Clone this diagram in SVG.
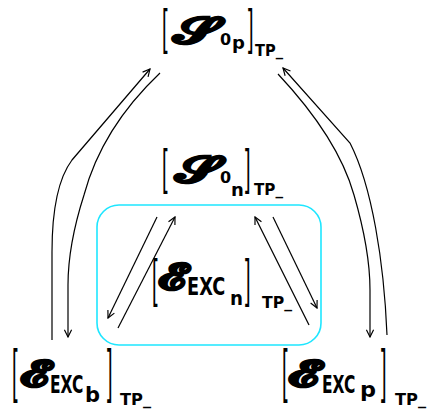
<svg xmlns="http://www.w3.org/2000/svg" width="428" height="410" viewBox="0 0 428 410">
<style>
.br{font-family:"Liberation Sans",Arial,sans-serif;font-size:20px;fill:#000}
.sc{font-family:"DejaVu Serif","DejaVu Sans","Noto Sans",serif;font-weight:bold;font-size:36px;fill:#000;stroke:#000;stroke-width:1.4}
.b{font-family:"DejaVu Sans",Verdana,sans-serif;font-weight:bold;fill:#000}
.tp{font-family:"DejaVu Sans",Verdana,sans-serif;font-weight:bold;font-size:15px;fill:#000}
.ln{fill:none;stroke:#000;stroke-width:1.2}
</style>
<defs>
<marker id="ah" viewBox="0 0 10 10" refX="9" refY="5" markerWidth="9" markerHeight="9" markerUnits="userSpaceOnUse" orient="auto">
<path d="M1,1 L9,5 L1,9" fill="none" stroke="#000" stroke-width="1.3"/>
</marker>
</defs>
<rect x="97" y="205" width="224" height="140" rx="22" ry="22" fill="none" stroke="#1ee6ff" stroke-width="1.6"/>
<g id="connectors">
<path class="ln" marker-end="url(#ah)" d="M52,340 L52,252 C52,205 60,176 72,160 L150,69"/>
<path class="ln" marker-end="url(#ah)" d="M160,73 Q102,128 84,195 Q68,245 68,285 L68,337"/>
<path class="ln" marker-end="url(#ah)" d="M387,335 C384,262 372,186 350,143 L283,68"/>
<path class="ln" marker-end="url(#ah)" d="M278,74 Q338,138 354,195 Q370,250 370,290 L370,337"/>
<path class="ln" marker-end="url(#ah)" d="M157,217 L108,318"/>
<path class="ln" marker-end="url(#ah)" d="M118,328 L175,217"/>
<path class="ln" marker-end="url(#ah)" d="M309,325 L255,217"/>
<path class="ln" marker-end="url(#ah)" d="M273,217 L317,308"/>
</g>
<g id="S0p">
<text class="br" transform="translate(162,44.4) scale(1,2.5)">[</text>
<text class="sc" x="173" y="43" textLength="45" lengthAdjust="spacingAndGlyphs">𝓢</text>
<text class="b" x="220" y="45" font-size="16">0</text>
<text class="b" x="232" y="49" font-size="18">p</text>
<text class="br" transform="translate(248,44.4) scale(1,2.5)">]</text>
<text class="tp" x="255" y="56" textLength="28" lengthAdjust="spacingAndGlyphs">TP_</text>
</g>
<g id="S0n">
<text class="br" transform="translate(162,184.4) scale(1,2.5)">[</text>
<text class="sc" x="175" y="182" textLength="44" lengthAdjust="spacingAndGlyphs">𝓢</text>
<text class="b" x="220" y="183" font-size="16">0</text>
<text class="b" x="231" y="196" font-size="18">n</text>
<text class="br" transform="translate(245,184.4) scale(1,2.5)">]</text>
<text class="tp" x="254" y="195" textLength="29" lengthAdjust="spacingAndGlyphs">TP_</text>
</g>
<g id="EXCn">
<text class="br" transform="translate(152,296) scale(1,2.61)">[</text>
<text class="sc" x="158" y="289" textLength="28" lengthAdjust="spacingAndGlyphs">𝓔</text>
<text class="b" font-size="24" transform="translate(187,295) scale(0.74,1)">EXC</text>
<text class="b" x="230" y="305" font-size="20" textLength="13" lengthAdjust="spacingAndGlyphs">n</text>
<text class="br" transform="translate(245,296) scale(1,2.61)">]</text>
<text class="tp" x="262" y="308" textLength="30" lengthAdjust="spacingAndGlyphs">TP_</text>
</g>
<g id="EXCb">
<text class="br" transform="translate(12,390.7) scale(1,2.93)">[</text>
<text class="sc" x="20" y="386" textLength="29" lengthAdjust="spacingAndGlyphs">𝓔</text>
<text class="b" font-size="24" transform="translate(50,393) scale(0.645,1)">EXC</text>
<text class="b" x="85" y="402" font-size="22" textLength="15" lengthAdjust="spacingAndGlyphs">b</text>
<text class="br" transform="translate(107,390.7) scale(1,2.93)">]</text>
<text class="tp" x="120" y="405" textLength="31" lengthAdjust="spacingAndGlyphs">TP_</text>
</g>
<g id="EXCp">
<text class="br" transform="translate(282,390.7) scale(1,2.93)">[</text>
<text class="sc" x="288" y="386" textLength="31" lengthAdjust="spacingAndGlyphs">𝓔</text>
<text class="b" font-size="24" transform="translate(322,393) scale(0.645,1)">EXC</text>
<text class="b" x="360" y="397" font-size="22" textLength="16" lengthAdjust="spacingAndGlyphs">p</text>
<text class="br" transform="translate(381,390.7) scale(1,2.93)">]</text>
<text class="tp" x="395" y="405" textLength="31" lengthAdjust="spacingAndGlyphs">TP_</text>
</g>
</svg>
